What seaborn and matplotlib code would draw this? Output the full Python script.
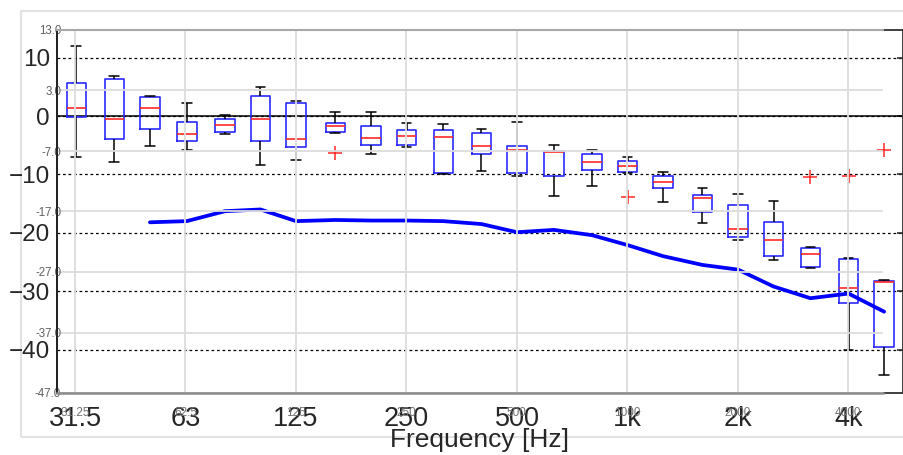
import numpy as np
import pandas as pd
import matplotlib
matplotlib.use("Agg")
import matplotlib.pyplot as plt
from matplotlib.patches import Rectangle
from matplotlib.ticker import FixedLocator, FixedFormatter, NullLocator
import seaborn as sns

# 1/3-octave band centres [Hz]
FREQS = [31.5, 40, 50, 63, 80, 100, 125, 160, 200, 250, 315, 400,
         500, 630, 800, 1000, 1250, 1600, 2000, 2500, 3150, 4000, 5000]

# box statistics per band [dB]
WHISK_LO = [-7.1, -7.9, -5.1, -5.9, -3.0, -8.4, -7.5, -2.85, -6.5, -5.25, -9.9, -9.5,
            -10.2, -13.7, -12.0, -9.7, -14.8, -18.3, -21.3, -24.6, -26.0, -40.1, -44.35]
Q1 = [-0.2, -3.9, -2.3, -4.2, -2.7, -4.3, -5.3, -2.7, -4.9, -4.9, -9.7, -6.5,
      -9.7, -10.2, -9.2, -9.65, -12.4, -16.4, -20.8, -23.9, -25.85, -32.1, -39.5]
MEDIAN = [1.4, -0.45, 1.4, -3.0, -1.6, -0.45, -3.9, -1.65, -3.7, -3.4, -3.65, -5.1,
          -5.9, -6.2, -7.9, -8.5, -11.25, -14.0, -19.35, -21.3, -23.6, -29.5, -28.4]
Q3 = [5.6, 6.3, 3.25, -1.0, -0.5, 3.5, 2.2, -1.2, -1.65, -2.45, -2.45, -2.85,
      -5.1, -6.0, -6.5, -7.7, -10.2, -13.5, -15.3, -18.15, -22.6, -24.4, -28.25]
WHISK_HI = [12.0, 6.85, 3.4, 2.2, 0.2, 4.9, 2.6, 0.75, 0.75, -1.25, -1.4, -2.3,
            -1.0, -4.9, -5.9, -7.1, -9.65, -12.4, -13.4, -14.5, -22.5, -24.3, -28.1]

# outliers
OUTLIER_FREQS = [160, 1000, 3150, 4000, 5000]
OUTLIER_LEVELS = [-6.3, -13.9, -10.5, -10.2, -5.9]

# reference curve
LINE_FREQS = [50, 63, 80, 100, 125, 160, 200, 250, 315, 400, 500, 630, 800,
              1000, 1250, 1600, 2000, 2500, 3150, 4000, 5000]
LINE_LEVELS = [-18.2, -18.0, -16.3, -16.0, -18.0, -17.8, -17.9, -17.9, -18.0, -18.5,
               -19.9, -19.5, -20.4, -22.1, -24.0, -25.5, -26.3, -29.2, -31.2, -30.4, -33.5]

MAJOR_Y = [10, 0, -10, -20, -30, -40]
MINOR_Y = [13, 3, -7, -17, -27, -37, -47]
OCT_TICKS = [31.25, 62.5, 125, 250, 500, 1000, 2000, 4000]
OCT_LABELS = ["31.5", "63", "125", "250", "500", "1k", "2k", "4k"]
OCT_SMALL_LABELS = ["31.25", "62.5", "125", "250", "500", "1000", "2000", "4000"]

sns.set_style("white")
plt.rcParams["font.family"] = ["Liberation Sans", "DejaVu Sans"]

rows = []
for f, a, b, c, d, e in zip(FREQS, WHISK_LO, Q1, MEDIAN, Q3, WHISK_HI):
    for v in (a, b, c, d, e):
        rows.append({"freq": float(f), "level": v})
df = pd.DataFrame(rows)

W, H = 904, 455
fig = plt.figure(figsize=(W / 100, H / 100), dpi=100)
fig.patch.set_facecolor("white")

# outer light frame
fig.add_artist(Rectangle((21 / W, (H - 437) / H), (W + 5 - 21) / W, (437 - 11) / H,
                         transform=fig.transFigure, fill=False,
                         edgecolor="#e2e2e2", linewidth=1.5, zorder=0))

L, B, T = 57, 393, 30
ax = fig.add_axes([L / W, (H - B) / H, (903 - L) / W, (B - T) / H], zorder=1)
ax2 = fig.add_axes([L / W, (H - B) / H, (883 - L) / W, (B - T) / H], zorder=2)
ax2.patch.set_alpha(0)

sns.boxplot(data=df, x="freq", y="level", ax=ax, native_scale=True,
            log_scale=(2, False), whis=(0, 100), width=0.55, fill=False,
            color="#2a2aff", linewidth=1.2, showfliers=False,
            boxprops=dict(color="#2a2aff", linewidth=1.2),
            medianprops=dict(color="#ff2a2a", linewidth=1.2),
            whiskerprops=dict(color="black", linewidth=1.1),
            capprops=dict(color="black", linewidth=1.1))

sns.scatterplot(x=OUTLIER_FREQS, y=OUTLIER_LEVELS, marker="+", s=90,
                color="#ff2a2a", linewidth=1.1, ax=ax, zorder=4)

sns.lineplot(x=LINE_FREQS, y=LINE_LEVELS, color="#0000ff", linewidth=2.7,
             ax=ax, zorder=5)

# main axes: big labels, dashed grid
ax.set_xscale("log", base=2)
ax.set_xlim(27.91, 5629)
ax.set_ylim(-47.43, 14.73)
ax.set_yticks(MAJOR_Y)
ax.set_yticklabels([str(v).replace("-", "\u2212") for v in MAJOR_Y])
ax.xaxis.set_major_locator(FixedLocator(OCT_TICKS))
ax.xaxis.set_major_formatter(FixedFormatter(OCT_LABELS))
ax.xaxis.set_minor_locator(NullLocator())
ax.yaxis.grid(True, color="black", linestyle=(0, (2.2, 2.2)), linewidth=0.9)
ax.xaxis.grid(False)
ax.axhline(0, color="black", linewidth=1.1, zorder=1.5)
ax.tick_params(axis="y", left=False, right=True, direction="in", length=4,
               width=1.2, color="#303030", labelsize=17.5, pad=5)
ax.tick_params(axis="x", bottom=False, labelsize=19.5, pad=6)
ax.set_ylabel("")
ax.set_xlabel("Frequency [Hz]", fontsize=19)
ax.xaxis.set_label_coords(0.5, (B - 440) / (B - T))
ax.xaxis.label.set_va("center")
for side in ("left", "right", "top", "bottom"):
    ax.spines[side].set_color("#303030")
    ax.spines[side].set_linewidth(1.3)

# overlay axes: small labels, light grid
ax2.set_xscale("log", base=2)
ax2.set_xlim(27.91, 4972)
ax2.set_ylim(-47, 13)
ax2.xaxis.set_major_locator(FixedLocator(OCT_TICKS))
ax2.xaxis.set_major_formatter(FixedFormatter(OCT_SMALL_LABELS))
ax2.xaxis.set_minor_locator(NullLocator())
ax2.set_yticks(MINOR_Y)
ax2.set_yticklabels([f"{v:.1f}" for v in MINOR_Y])
ax2.grid(True, color="#dcdcdc", linewidth=1.3)
ax2.tick_params(axis="x", length=0, labelsize=8.5, labelcolor="#707070", pad=10)
ax2.tick_params(axis="y", length=0, labelsize=8.3, labelcolor="#606060", pad=-3)
ax2.spines["right"].set_visible(False)
ax2.spines["left"].set_color("#202020")
ax2.spines["left"].set_linewidth(1.3)
ax2.spines["bottom"].set_color("#8c8c8c")
ax2.spines["bottom"].set_linewidth(1.8)
ax2.spines["top"].set_color("#a8a8a8")
ax2.spines["top"].set_linewidth(1.5)

fig.savefig("out.png", dpi=100, facecolor="white")
